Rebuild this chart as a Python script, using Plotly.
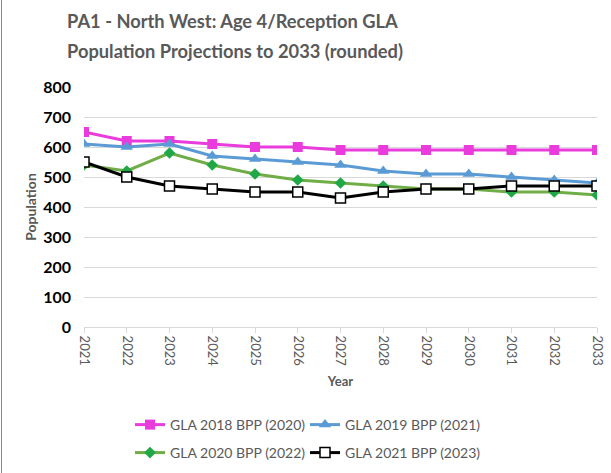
import plotly.graph_objects as go

years = list(range(2021, 2034))
gla2018 = [650, 620, 620, 610, 600, 600, 590, 590, 590, 590, 590, 590, 590]
gla2019 = [610, 600, 610, 570, 560, 550, 540, 520, 510, 510, 500, 490, 480]
gla2020 = [540, 520, 580, 540, 510, 490, 480, 470, 460, 460, 450, 450, 440]
gla2021 = [550, 500, 470, 460, 450, 450, 430, 450, 460, 460, 470, 470, 470]

names = ["GLA 2018 BPP (2020)", "GLA 2019 BPP (2021)", "GLA 2020 BPP (2022)", "GLA 2021 BPP (2023)"]
title_lines = ["PA1 - North West: Age 4/Reception GLA", "Population Projections to 2033 (rounded)"]

fig = go.Figure()
fig.add_trace(go.Scatter(x=years, y=gla2018, name=names[0], mode="lines+markers", legend="legend",
                         line=dict(color="#EA3BDD", width=3),
                         marker=dict(symbol="square", size=10, color="#EA3BDD")))
fig.add_trace(go.Scatter(x=years, y=gla2019, name=names[1], mode="lines+markers", legend="legend",
                         line=dict(color="#5B9BD5", width=3),
                         marker=dict(symbol="triangle-up", size=11, color="#5B9BD5")))
fig.add_trace(go.Scatter(x=years, y=gla2020, name=names[2], mode="lines+markers", legend="legend2",
                         line=dict(color="#70AD47", width=3),
                         marker=dict(symbol="diamond", size=9, color="#1FA845")))
fig.add_trace(go.Scatter(x=years, y=gla2021, name=names[3], mode="lines+markers", legend="legend2",
                         line=dict(color="#000000", width=3),
                         marker=dict(symbol="square", size=10, color="#FFFFFF",
                                     line=dict(color="#000000", width=1.5))))

leg_common = dict(orientation="h", xref="container", yref="container", x=130 / 611, xanchor="left",
                  yanchor="middle", font=dict(size=14, color="#595959"),
                  entrywidth=130, itemwidth=30, bgcolor="rgba(0,0,0,0)")

fig.update_layout(
    width=611, height=473,
    margin=dict(l=84, r=14, t=87, b=146, autoexpand=False),
    paper_bgcolor="white", plot_bgcolor="white",
    font=dict(family="Lato, Open Sans, sans-serif", color="#595959"),
    showlegend=True,
    legend=dict(**leg_common, y=1 - 425 / 473),
    legend2=dict(**leg_common, y=1 - 453 / 473),
)

for i, line in enumerate(title_lines):
    fig.add_annotation(text=line, xref="paper", yref="paper",
                       x=(65 - 84) / 513, xanchor="left",
                       y=1 + (87 - (21 + 30 * i)) / 240, yanchor="middle", showarrow=False,
                       font=dict(size=18.3, color="#595959", family="Lato, sans-serif", weight="bold"))

fig.update_xaxes(range=[2021, 2033], tickmode="linear", dtick=1, tick0=2021, automargin=False,
                 tickangle=90, tickfont=dict(size=13, color="#595959"),
                 showgrid=False, showline=True, linecolor="#D9D9D9", linewidth=1,
                 ticks="outside", ticklen=5, tickcolor="#D9D9D9",
                 title=dict(text="Year", font=dict(size=13, color="#595959", weight="bold"), standoff=11),
                 zeroline=False)
fig.update_yaxes(range=[0, 800], dtick=100, tickfont=dict(size=16, color="#000000", weight="bold"),
                 showgrid=True, gridcolor="#D9D9D9", gridwidth=1, zeroline=False, automargin=False,
                 ticks="", ticklabelstandoff=12,
                 title=dict(text="Population", font=dict(size=14, color="#595959", weight="bold"), standoff=3))

fig.add_shape(type="line", xref="paper", yref="paper", x0=-82.5 / 513, x1=-82.5 / 513, y0=-0.61, y1=1.37,
              line=dict(color="#8C8C8C", width=1))

fig.write_html("out.html", config={"displayModeBar": False},
               post_script="document.body.style.margin='0px';document.body.style.overflow='hidden';")
